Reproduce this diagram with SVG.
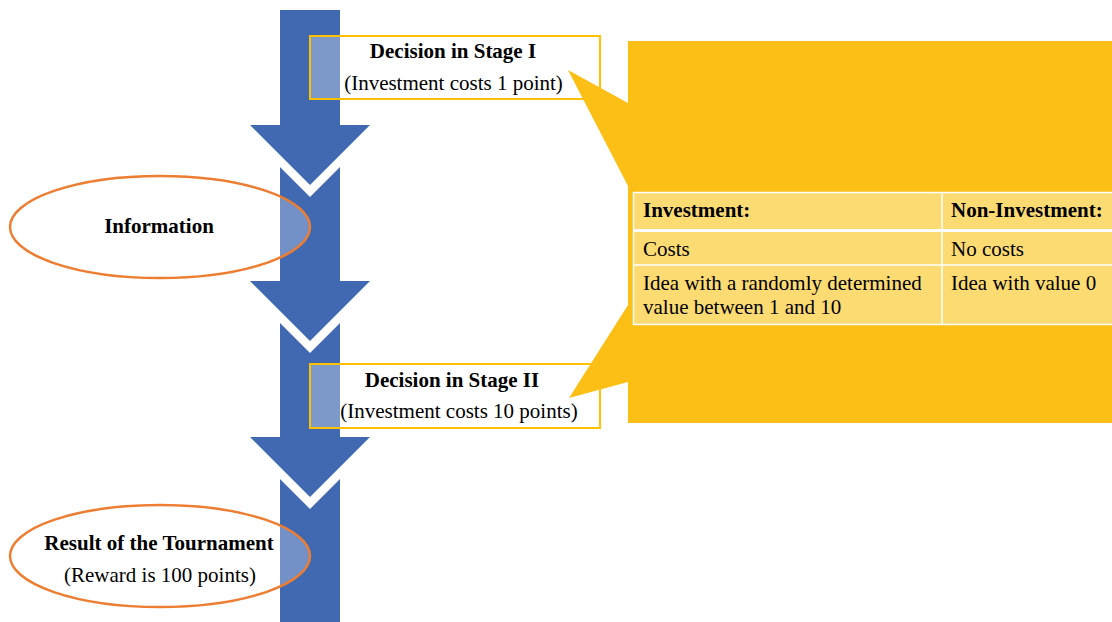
<svg xmlns="http://www.w3.org/2000/svg" width="1112" height="622" viewBox="0 0 1112 622">
<style>
text{font-family:"Liberation Serif","Times New Roman",serif;font-size:21px;fill:#000}
.b{font-weight:bold}
.m{text-anchor:middle}
.arr{fill:#4069B2}
.ell{fill:#fff;fill-opacity:0.27;stroke:#ED7D31;stroke-width:2.5}
.box{fill:#fff;fill-opacity:0.32;stroke:#FFC000;stroke-width:2}
.cell{fill:#FDDB73}
.ln{stroke:#fff;stroke-width:1.5}
</style>
<rect width="1112" height="622" fill="#fff"/>
<g id="flow-arrow">
<polygon class="arr" points="280,10 340,10 340,125 370,125 310,185 250,125 280,125"/>
<polygon class="arr" points="280,167 310,197 340,167 340,281 370,281 310,341 250,281 280,281"/>
<polygon class="arr" points="280,323 310,353 340,323 340,437 370,437 310,497 250,437 280,437"/>
<polygon class="arr" points="280,479 310,509 340,479 340,622 280,622"/>
</g>
<g id="decision-stage-1">
<rect class="box" x="310" y="36" width="290" height="63"/>
<text class="b m" x="453" y="58">Decision in Stage I</text>
<text class="m" x="453.5" y="90">(Investment costs 1 point)</text>
</g>
<g id="information">
<ellipse class="ell" cx="160" cy="227" rx="150" ry="51"/>
<text class="b m" x="159" y="233">Information</text>
</g>
<g id="decision-stage-2">
<rect class="box" x="310" y="364" width="290" height="64"/>
<text class="b m" x="452" y="387">Decision in Stage II</text>
<text class="m" x="459" y="418">(Investment costs 10 points)</text>
</g>
<g id="result">
<ellipse class="ell" cx="160" cy="556" rx="150" ry="51"/>
<text class="b m" x="159" y="550">Result of the Tournament</text>
<text class="m" x="160" y="582">(Reward is 100 points)</text>
</g>
<g id="callout">
<path fill="#FCBF15" d="M628,41 H1112 V423 H628 V382 L569,398 L628,305 V186 L568,70 L628,103 Z"/>
</g>
<g id="table">
<rect class="cell" x="633" y="192" width="479" height="133"/>
<line class="ln" x1="633" y1="192.5" x2="1112" y2="192.5"/>
<line class="ln" x1="633" y1="324.5" x2="1112" y2="324.5"/>
<line class="ln" x1="633.5" y1="192" x2="633.5" y2="325"/>
<line class="ln" x1="942" y1="192" x2="942" y2="325"/>
<line stroke="#fff" stroke-width="3" x1="633" y1="230.5" x2="1112" y2="230.5"/>
<line class="ln" x1="633" y1="265" x2="1112" y2="265"/>
<text class="b" x="643" y="217">Investment:</text>
<text class="b" x="951" y="217">Non-Investment:</text>
<text x="643" y="256">Costs</text>
<text x="951" y="256">No costs</text>
<text x="643" y="290">Idea with a randomly determined</text>
<text x="643" y="314">value between 1 and 10</text>
<text x="951" y="290">Idea with value 0</text>
</g>
</svg>
